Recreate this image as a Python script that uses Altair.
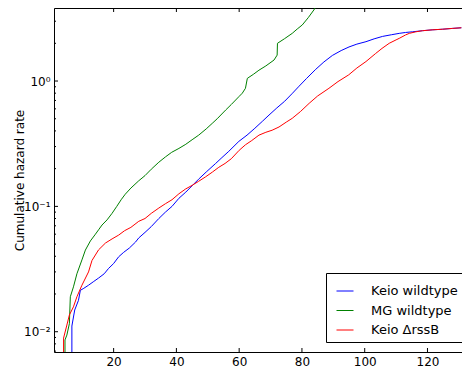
import altair as alt
import pandas as pd

# ---------------- data ----------------
series_names = ["Keio wildtype", "MG wildtype", "Keio ΔrssB"]
series_colors = ["#0000ff", "#008000", "#ff0000"]

keio_wt_t = [6.7, 6.7, 7.6, 8.8, 9.4, 10.5, 12.0, 13.5, 15.2, 17.0, 18.4, 20.0, 21.6, 23.2,
             25.0, 27.0, 28.0, 30.0, 32.0, 34.4, 36.5, 38.6, 40.8, 43.0, 45.0, 47.1, 49.5,
             52.5, 54.5, 56.7, 59.9, 62.5, 65.0, 67.5, 69.5, 72.0, 74.5, 77.0, 79.1, 81.5,
             84.4, 87.0, 89.7, 92.5, 95.0, 97.5, 100.4, 103.0, 105.7, 108.5, 111.0, 113.0,
             115.2, 118.4, 121.5, 124.8, 128.0, 130.8]
keio_wt_h = [0.005, 0.0111, 0.0149, 0.0178, 0.0214, 0.0222, 0.0235, 0.025, 0.0268, 0.029,
             0.032, 0.035, 0.0396, 0.043, 0.0465, 0.052, 0.056, 0.062, 0.069, 0.080, 0.090,
             0.100, 0.116, 0.130, 0.146, 0.165, 0.188, 0.220, 0.245, 0.275, 0.33, 0.37, 0.42,
             0.48, 0.535, 0.61, 0.69, 0.80, 0.91, 1.05, 1.24, 1.42, 1.60, 1.75, 1.87, 1.97,
             2.06, 2.17, 2.27, 2.34, 2.40, 2.44, 2.47, 2.52, 2.56, 2.59, 2.63, 2.66]

mg_wt_t = [4.5, 4.5, 5.1, 5.9, 6.2, 7.2, 8.3, 9.9, 11.0, 12.6, 14.2, 15.2, 16.3, 17.9, 19.5,
           21.0, 22.5, 23.7, 25.5, 28.0, 30.0, 32.0, 34.4, 36.5, 38.5, 40.8, 43.0, 45.0, 47.1,
           49.5, 51.4, 53.0, 55.7, 57.5, 59.9, 61.0, 62.0, 62.6, 64.5, 66.3, 68.5, 71.1, 72.1,
           72.2, 74.5, 76.9, 78.5, 80.1, 82.0, 83.8, 84.8, 86.0]
mg_wt_h = [0.005, 0.0086, 0.0094, 0.0116, 0.019, 0.0228, 0.029, 0.0374, 0.0448, 0.053, 0.060,
           0.065, 0.071, 0.078, 0.088, 0.100, 0.114, 0.125, 0.140, 0.160, 0.176, 0.198, 0.225,
           0.248, 0.270, 0.290, 0.313, 0.340, 0.370, 0.415, 0.459, 0.50, 0.587, 0.65, 0.75,
           0.80, 0.875, 1.05, 1.13, 1.22, 1.32, 1.47, 1.61, 2.0, 2.18, 2.40, 2.60, 2.80, 3.2,
           3.69, 4.04, 4.5]

keio_rssb_t = [4.05, 4.05, 5.1, 5.9, 7.2, 8.3, 9.9, 12.0, 13.1, 15.2, 17.4, 19.5, 21.6, 23.5,
               25.5, 28.0, 30.0, 32.0, 34.4, 36.5, 38.6, 40.8, 43.0, 45.0, 47.0, 49.3, 51.5,
               53.5, 55.5, 57.5, 60.0, 62.0, 64.0, 66.3, 68.5, 70.5, 72.7, 75.0, 76.9, 79.5,
               82.3, 85.0, 88.6, 91.5, 94.9, 97.5, 100.4, 103.5, 105.5, 107.8, 110.0, 111.0,
               113.0, 114.2, 116.3, 118.4, 121.5, 124.8, 128.0, 130.8]
keio_rssb_h = [0.005, 0.0089, 0.0113, 0.0136, 0.0158, 0.019, 0.0235, 0.030, 0.037, 0.045,
               0.051, 0.055, 0.059, 0.064, 0.068, 0.076, 0.080, 0.088, 0.097, 0.105, 0.113,
               0.126, 0.138, 0.147, 0.158, 0.172, 0.188, 0.205, 0.22, 0.24, 0.28, 0.31, 0.335,
               0.37, 0.39, 0.405, 0.43, 0.47, 0.504, 0.57, 0.664, 0.76, 0.875, 0.99, 1.12, 1.27,
               1.43, 1.66, 1.82, 2.0, 2.13, 2.19, 2.33, 2.40, 2.47, 2.52, 2.56, 2.59, 2.63, 2.66]

x_tick_values = [20, 40, 60, 80, 100, 120]
y_major_ticks = [0.01, 0.1, 1]
y_minor_ticks = [0.007, 0.008, 0.009, 0.02, 0.03, 0.04, 0.05, 0.06, 0.07, 0.08, 0.09,
                 0.2, 0.3, 0.4, 0.5, 0.6, 0.7, 0.8, 0.9, 2, 3]

X_DOMAIN = [1, 131]
Y_DOMAIN = [0.00689, 3.825]

# ---------------- build table ----------------
rows = []
for name, ts, hs in [(series_names[0], keio_wt_t, keio_wt_h),
                     (series_names[1], mg_wt_t, mg_wt_h),
                     (series_names[2], keio_rssb_t, keio_rssb_h)]:
    for i, (t, h) in enumerate(zip(ts, hs)):
        rows.append({"series": name, "t": t, "h": h, "idx": i})
df = pd.DataFrame(rows)

W, H = 408, 344
FONT = "DejaVu Sans"

xscale = alt.Scale(domain=X_DOMAIN, nice=False, zero=False)
yscale = alt.Scale(type="log", domain=Y_DOMAIN, nice=False)

lines = alt.Chart(df).mark_line(strokeWidth=1, clip=True).encode(
    x=alt.X("t:Q", scale=xscale,
            axis=alt.Axis(values=x_tick_values, ticks=False, labelPadding=4, grid=False,
                          title=None, domainColor="black", domainWidth=1,
                          labelFontSize=12, labelColor="black", labelFont=FONT)),
    y=alt.Y("h:Q", scale=yscale,
            axis=alt.Axis(values=y_major_ticks, ticks=False, labelPadding=4, grid=False,
                          labelExpr="datum.value >= 0.5 ? '10⁰' : (datum.value >= 0.05 ? '10⁻¹' : '10⁻²')",
                          title="Cumulative hazard rate", titleFontSize=12,
                          titleFontWeight="normal", titleFont=FONT, titleColor="black",
                          titleX=-30.5, titleY=H / 2, titleAngle=-90,
                          titleAlign="center", titleBaseline="alphabetic",
                          domainColor="black", domainWidth=1,
                          labelFontSize=12, labelColor="black", labelFont=FONT)),
    color=alt.Color("series:N", sort=series_names,
                    scale=alt.Scale(domain=series_names, range=series_colors),
                    legend=alt.Legend(title=" ", titleFontSize=3, titlePadding=1,
                                      orient="none", legendX=272, legendY=265,
                                      symbolType="stroke", symbolSize=289,
                                      symbolStrokeWidth=1, labelFontSize=13,
                                      labelFont=FONT, labelColor="black",
                                      strokeColor="black", fillColor="white",
                                      padding=5, rowPadding=3.5, labelOffset=17,
                                      cornerRadius=0, symbolOffset=5)),
    order="idx:Q",
)


def yticks(vals, length):
    return alt.Chart(pd.DataFrame({"v": vals})).mark_rule(color="black", strokeWidth=1).encode(
        y=alt.Y("v:Q", scale=yscale, axis=None),
        x=alt.value(0), x2=alt.value(length))


bottom_ticks = alt.Chart(pd.DataFrame({"v": x_tick_values})).mark_rule(
    color="black", strokeWidth=1).encode(
    x=alt.X("v:Q", scale=xscale, axis=None),
    y=alt.value(H), y2=alt.value(H - 4))

top_ticks = alt.Chart(pd.DataFrame({"v": x_tick_values})).mark_rule(
    color="black", strokeWidth=1).encode(
    x=alt.X("v:Q", scale=xscale,
            axis=alt.Axis(orient="top", labels=False, ticks=False, grid=False, title=None,
                          domain=True, domainColor="black", domainWidth=1)),
    y=alt.value(0), y2=alt.value(4))

chart = alt.layer(
    lines, yticks(y_major_ticks, 4), yticks(y_minor_ticks, 2), bottom_ticks, top_ticks
).resolve_axis(x="independent", y="independent").properties(
    width=W, height=H,
    autosize=alt.AutoSizeParams(type="none"),
    padding={"left": 54, "top": 8, "right": 0, "bottom": 17},
).configure_view(stroke=None).configure(font=FONT)

chart.save("out.html", embed_options={"renderer": "svg", "actions": False})
